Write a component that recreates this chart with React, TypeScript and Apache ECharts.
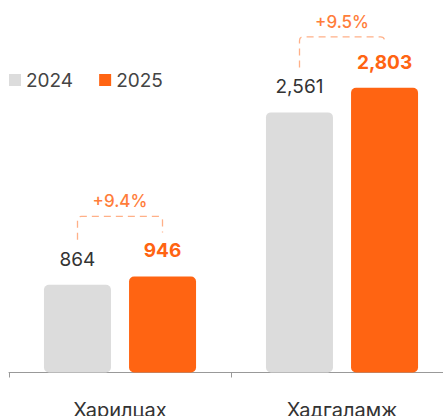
import React, { useEffect, useRef } from "react";
import * as echarts from "echarts";

const categories = ["Харилцах", "Хадгаламж"];
const values2024 = [864, 2561];
const values2025 = [946, 2803];
const growthLabels = ["+9.4%", "+9.5%"];
const seriesNames = ["2024", "2025"];

const FONT = "Inter, 'Noto Sans', sans-serif";
const GRAY = "#DCDCDC";
const ORANGE = "#FF6412";
const BRACKET = "#FFB088";
const PCT = "#FF7D3A";
const BAR_HALF_OFFSET = 42.5;
const BRACKET_RISE = [16, 7];

const fmt = (v: number) => v.toLocaleString("en-US");

export default function App() {
  const ref = useRef<HTMLDivElement>(null);
  useEffect(() => {
    if (!ref.current) return;
    const chart = echarts.init(ref.current, null, { renderer: "svg" });
    chart.setOption({
      animation: false,
      textStyle: { fontFamily: FONT },
      legend: {
        data: seriesNames,
        left: 9,
        top: 70.5,
        padding: 0,
        icon: "rect",
        itemWidth: 12,
        itemHeight: 12,
        itemGap: 26,
        textStyle: { fontSize: 19, color: "#444", fontFamily: FONT },
        selectedMode: false,
      },
      grid: {
        left: 9,
        width: 444,
        top: 17,
        bottom: 43.5,
        containLabel: false,
        outerBoundsMode: "none",
      },
      xAxis: {
        type: "category",
        data: categories,
        offset: 12,
        axisLine: { show: true, lineStyle: { color: "#999", width: 1 } },
        axisTick: { show: true, length: 5, lineStyle: { color: "#999" } },
        axisLabel: { fontSize: 20, color: "#333", margin: 15, fontFamily: FONT },
      },
      yAxis: { type: "value", min: 0, max: 3500, show: false, splitLine: { show: false } },
      series: [
        {
          name: seriesNames[0],
          type: "bar",
          data: values2024,
          barWidth: 67,
          barGap: "27%",
          itemStyle: { color: GRAY, borderRadius: 5 },
          label: {
            show: true,
            position: "top",
            distance: 16,
            fontSize: 19,
            color: "#333",
            fontFamily: FONT,
            formatter: (p: any) => fmt(p.value),
          },
        },
        {
          name: seriesNames[1],
          type: "bar",
          data: values2025,
          barWidth: 67,
          itemStyle: { color: ORANGE, borderRadius: 5 },
          label: {
            show: true,
            position: "top",
            distance: 16,
            fontSize: 19,
            fontWeight: "bold",
            color: ORANGE,
            fontFamily: FONT,
            formatter: (p: any) => fmt(p.value),
          },
        },
        {
          type: "custom",
          silent: true,
          clip: false,
          z: 5,
          encode: { x: 0, y: [1, 2] },
          data: categories.map((_, i) => [i, values2024[i], values2025[i]]),
          renderItem: (params: any, api: any) => {
            const i = api.value(0);
            const a = api.coord([i, api.value(1)]);
            const b = api.coord([i, api.value(2)]);
            const cx = a[0];
            const lx = cx - BAR_HALF_OFFSET;
            const rx = cx + BAR_HALF_OFFSET;
            const ly = a[1] - 45;
            const ry = b[1] - 44;
            const hy = Math.min(ly, ry) - BRACKET_RISE[params.dataIndex];
            const r = 4;
            const d = `M${lx},${ly} L${lx},${hy + r} Q${lx},${hy} ${lx + r},${hy} L${rx - r},${hy} Q${rx},${hy} ${rx},${hy + r} L${rx},${ry}`;
            return {
              type: "group",
              children: [
                {
                  type: "path",
                  shape: { pathData: d },
                  style: { fill: "none", stroke: BRACKET, lineWidth: 1.3, lineDash: [7, 5] },
                },
                {
                  type: "text",
                  x: cx,
                  y: hy - 15,
                  style: {
                    text: growthLabels[params.dataIndex],
                    fill: PCT,
                    fontSize: 17,
                    fontWeight: 500,
                    fontFamily: FONT,
                    align: "center",
                    verticalAlign: "middle",
                  },
                },
              ],
            };
          },
        },
      ],
    });
    return () => chart.dispose();
  }, []);
  return (
    <div
      ref={ref}
      style={{ position: "absolute", left: 0, top: 0, width: 443, height: 416 }}
    />
  );
}
